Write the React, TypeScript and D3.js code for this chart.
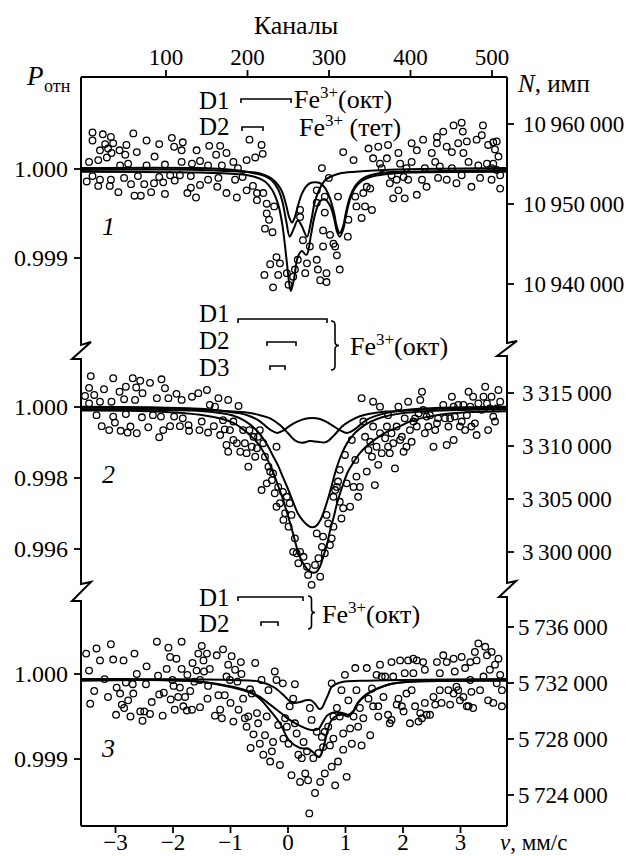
import * as d3 from 'd3';

type Pt = [number, number];

const FONT = '"Liberation Serif", "DejaVu Serif", "Times New Roman", Times, serif';

// axes
const channelTicks = [100, 200, 300, 400, 500];
const velocityTicks = [-3, -2, -1, 0, 1, 2, 3];

const p1PTicks = [1.0, 0.999];
const p1NTicks = [10960000, 10950000, 10940000];
const p2PTicks = [1.0, 0.998, 0.996];
const p2NTicks = [3315000, 3310000, 3305000, 3300000];
const p3PTicks = [1.0, 0.999];
const p3NTicks = [5736000, 5732000, 5728000, 5724000];

// experimental points [v, P]
const p1Points: Pt[] = [
  [-3.5, 0.99986], [-3.46, 1.00008], [-3.4, 1.00041], [-3.4, 1.00032], [-3.4, 0.99992], [-3.3, 1.0001], [-3.3, 0.99981], [-3.27, 1.00021], [-3.27, 0.99988], [-3.22, 1.00039],
  [-3.18, 1.00028], [-3.15, 1.00013], [-3.13, 1.00023], [-3.1, 0.99981], [-3.08, 1.00036], [-3.08, 0.99988], [-3.07, 1.00018], [-3.04, 1.00029], [-2.95, 0.99974], [-2.93, 1.00021],
  [-2.92, 1.00004], [-2.85, 0.9999], [-2.83, 1.00016], [-2.81, 1.00027], [-2.78, 1.00006], [-2.73, 0.99983], [-2.69, 1.0004], [-2.67, 0.9997], [-2.63, 1.00019], [-2.61, 0.99992],
  [-2.56, 0.9997], [-2.5, 0.99983], [-2.46, 1.00032], [-2.46, 1.00004], [-2.38, 0.99974], [-2.33, 0.99984], [-2.32, 1.00014], [-2.24, 1.00028], [-2.24, 0.99991], [-2.17, 0.99985],
  [-2.14, 1.00005], [-2.14, 0.99972], [-2.05, 0.99993], [-2.02, 1.00035], [-1.98, 1.00025], [-1.97, 0.99987], [-1.88, 0.99993], [-1.85, 1.00021], [-1.85, 1.00008], [-1.83, 1.0003],
  [-1.75, 0.99973], [-1.69, 0.99992], [-1.69, 0.99979], [-1.67, 1.00006], [-1.6, 0.99968], [-1.59, 1.00021], [-1.53, 1.00009], [-1.53, 0.99982], [-1.39, 1.00004], [-1.39, 0.99988],
  [-1.37, 1.00026], [-1.25, 1.00016], [-1.23, 0.9998], [-1.21, 0.9999], [-1.18, 1.00026], [-1.15, 1.00004], [-1.07, 1.00018], [-1.07, 0.99973], [-0.95, 1.00008], [-0.92, 0.99988],
  [-0.89, 0.99968], [-0.87, 1.00001], [-0.79, 0.99991], [-0.72, 1.0001], [-0.72, 0.99976], [-0.67, 1.00033], [-0.61, 0.99981], [-0.57, 1.00013], [-0.54, 0.99973], [-0.54, 0.99965],
  [-0.46, 1.00027], [-0.44, 1.00017], [-0.43, 0.99973], [-0.4, 0.99933], [-0.37, 0.99961], [-0.37, 0.9995], [-0.33, 0.99943], [-0.27, 0.99929], [-0.24, 0.99958], [-0.2, 0.99901],
  [-0.31, 0.99893], [-0.14, 0.99894], [-0.41, 0.99881], [-0.26, 0.99867], [-0.17, 0.99881], [-0.02, 0.99883], [0.01, 0.9987], [0.09, 0.99879], [0.12, 0.99887],
  [0.17, 0.99898], [0.21, 0.99954], [0.21, 0.99946], [0.26, 0.9992], [0.3, 0.99883], [0.33, 0.99894], [0.38, 0.99913], [0.5, 0.99976], [0.5, 0.99962], [0.5, 0.99898],
  [0.52, 0.99887], [0.56, 0.99875], [0.59, 1.00001], [0.61, 0.99931], [0.64, 0.99951], [0.67, 0.99873], [0.71, 0.9999], [0.73, 0.99926], [0.82, 0.99913], [0.87, 0.99969],
  [0.9, 0.99887], [0.96, 1.00019], [1.04, 0.99924], [1.05, 0.99943], [0.85, 0.99903], [0.79, 0.99916], [0.64, 0.99969], [0.61, 0.99913], [0.67, 0.99883],
  [1.14, 1.0001], [1.17, 0.99969], [1.19, 0.99958], [1.28, 0.99945], [1.31, 0.99973], [1.34, 0.99958], [1.37, 0.9998], [1.4, 1.00023], [1.43, 0.99978], [1.46, 0.99954],
  [1.48, 1.00012], [1.57, 1.00025], [1.6, 1.00006], [1.63, 1.00001], [1.72, 1.00012], [1.74, 1.00027], [1.77, 0.99984], [1.8, 0.99993], [1.83, 0.99967], [1.89, 0.99988],
  [1.92, 1.00018], [1.92, 0.99976], [1.95, 1.00006], [2.01, 0.99991], [2.03, 0.99967], [2.06, 1.00001], [2.09, 0.99988], [2.15, 1.00029], [2.15, 1.00008], [2.24, 1.00021],
  [2.24, 0.99971], [2.33, 0.99988], [2.35, 1.00033], [2.38, 1.00001], [2.41, 0.9998], [2.5, 1.00018], [2.56, 1.00008], [2.59, 1.00036], [2.59, 1.00029], [2.61, 0.9999],
  [2.64, 1.00003], [2.7, 1.00042], [2.76, 1.00025], [2.76, 0.99988], [2.85, 1.00019], [2.85, 1.00001], [2.88, 1.00049], [2.93, 0.99984], [2.96, 1.00029], [3.02, 1.00052],
  [3.04, 1.00042], [3.02, 0.99993], [3.05, 1.00018], [3.11, 1.00031], [3.14, 1.00008], [3.19, 0.9998], [3.28, 1.00033], [3.31, 1.00004], [3.34, 0.9999], [3.39, 1.00049],
  [3.37, 1.00038], [3.46, 1.00006], [3.48, 1.00027], [3.54, 0.99988], [3.57, 1.0003], [3.6, 1.00022], [3.63, 1.00031], [3.66, 1.00014], [3.63, 0.99999], [3.69, 0.99993],
  [3.69, 0.99978], [3.57, 1.00006], [3.54, 1.00001],
];

const p2Points: Pt[] = [
  [-3.53, 1.00031], [-3.46, 1.00054], [-3.43, 1.00087], [-3.46, 1.0001], [-3.37, 1.00034], [-3.33, 0.99977], [-3.27, 1.00015], [-3.24, 0.99946], [-3.2, 1.0005], [-3.11, 0.99935],
  [-3.07, 1.00015], [-3.04, 1.00081], [-3.04, 0.99973], [-3.01, 0.99956], [-2.93, 1.00043], [-2.91, 0.99933], [-2.85, 1.00022], [-2.82, 1.00057], [-2.82, 0.9998], [-2.79, 0.99928],
  [-2.74, 0.99945], [-2.7, 1.00081], [-2.66, 1.0002], [-2.64, 1.00055], [-2.63, 0.99926], [-2.57, 1.00074], [-2.54, 0.99971], [-2.53, 1.00039], [-2.43, 0.99943], [-2.4, 1.00068],
  [-2.35, 0.99977], [-2.28, 1.00025], [-2.24, 0.99915], [-2.21, 0.99973], [-2.2, 1.00078], [-2.17, 0.99935], [-2.14, 1.00053], [-2.08, 1.00025], [-2.05, 0.99946], [-1.98, 0.99973],
  [-1.94, 1.00037], [-1.88, 0.99946], [-1.85, 1.0002], [-1.83, 0.99968], [-1.73, 0.99949], [-1.72, 0.99933], [-1.67, 1.00029], [-1.56, 1.00039], [-1.54, 0.99935], [-1.5, 0.99959],
  [-1.41, 1.00048], [-1.39, 0.99928], [-1.36, 1.00006], [-1.29, 0.99946], [-1.27, 1.00001], [-1.21, 1.00025], [-1.18, 0.99921], [-1.13, 0.99963], [-1.1, 0.99937], [-1.07, 0.99893],
  [-1.04, 0.99874], [-1.04, 1.0002], [-1.01, 0.99935], [-0.95, 0.99907], [-0.95, 0.99959], [-0.89, 0.99898], [-0.86, 1.00003], [-0.83, 0.99874], [-0.78, 0.99935], [-0.75, 0.99898],
  [-0.72, 0.9987], [-0.69, 0.99832], [-0.67, 0.99935], [-0.63, 0.99888], [-0.6, 0.99916], [-0.57, 0.9986], [-0.54, 0.99884], [-0.52, 0.99916], [-0.49, 0.99935], [-0.46, 0.99766],
  [-0.43, 0.99898], [-0.4, 0.9986], [-0.37, 0.99785], [-0.34, 0.99832], [-0.31, 0.99818], [-0.28, 0.99794], [-0.26, 0.99813], [-0.23, 0.99757], [-0.2, 0.99888], [-0.2, 0.99719],
  [-0.17, 0.99775], [-0.14, 0.99729], [-0.09, 0.99761], [-0.08, 0.99682], [-0.05, 0.99701], [-0.02, 0.99747], [0.01, 0.99663], [0.03, 0.99729], [0.06, 0.99696], [0.09, 0.99592],
  [0.12, 0.9963], [0.15, 0.99588], [0.18, 0.9956],
  [0.21, 0.99592], [0.27, 0.99578], [0.33, 0.9955], [0.35, 0.99527], [0.41, 0.99499], [0.47, 0.99555], [0.5, 0.99644], [0.53, 0.99574], [0.56, 0.99522], [0.59, 0.99606],
  [0.61, 0.99635], [0.64, 0.99588], [0.67, 0.99696], [0.7, 0.99672], [0.73, 0.99611], [0.76, 0.9963], [0.79, 0.99663], [0.79, 0.99747], [0.82, 0.99766], [0.85, 0.99775],
  [0.87, 0.9979], [0.9, 0.99823], [0.9, 0.99733], [0.93, 0.99686], [0.96, 0.99715], [0.99, 0.99865], [1.02, 0.99785], [1.08, 0.99719], [1.11, 0.99907], [1.14, 0.99775],
  [1.17, 0.99851], [1.19, 0.99804], [1.22, 0.99747], [1.25, 0.99775], [1.28, 1.00025], [1.31, 0.99959], [1.34, 0.99916], [1.37, 0.99818], [1.4, 0.99879], [1.43, 0.99902],
  [1.46, 0.9986], [1.48, 1.00015], [1.48, 0.99945], [1.51, 0.9978], [1.54, 0.99888], [1.57, 0.99837], [1.6, 1.00001], [1.6, 0.99926], [1.63, 0.9987], [1.69, 0.99912],
  [1.72, 0.99945], [1.74, 0.99888], [1.74, 0.99977], [1.77, 0.9987], [1.8, 0.99926], [1.83, 0.99898], [1.86, 0.99827], [1.89, 0.99945], [1.92, 1.00001], [1.95, 0.99907],
  [1.98, 0.99916], [2.01, 0.99874], [2.03, 0.99968], [2.06, 0.99888], [2.09, 1.00015], [2.12, 0.99935], [2.15, 0.99902], [2.18, 0.99959], [2.21, 0.99968], [2.24, 0.99945],
  [2.27, 0.99982], [2.3, 1.0002], [2.33, 1.00043], [2.35, 0.99992], [2.38, 0.99926], [2.41, 0.99973], [2.44, 0.99945], [2.47, 0.99977], [2.53, 0.99888], [2.56, 0.99935],
  [2.59, 0.99954], [2.61, 0.99968], [2.7, 1.00006], [2.73, 0.99968], [2.76, 0.99893], [2.79, 0.99945], [2.82, 0.99968], [2.85, 1.00029], [2.88, 1.00001], [2.88, 0.99907],
  [2.9, 0.99973], [2.96, 1.00006], [2.99, 0.99945], [3.02, 0.99959], [3.05, 1.00006], [3.08, 0.99935], [3.11, 0.99977], [3.14, 1.00043], [3.17, 1.00001], [3.19, 0.99945],
  [3.22, 1.00029], [3.25, 0.99954], [3.28, 0.99921], [3.31, 1.0001], [3.37, 0.99992], [3.4, 1.00029], [3.43, 1.00057], [3.46, 1.0001], [3.48, 0.99935], [3.51, 0.99996],
  [3.54, 1.00029], [3.57, 0.99973], [3.6, 0.99959], [3.63, 0.99996], [3.66, 1.00048], [3.69, 1.00015],
];

const p3Points: Pt[] = [
  [-3.51, 1.00024], [-3.46, 1.00004], [-3.44, 0.99965], [-3.37, 0.9998], [-3.33, 1.0003], [-3.27, 1.00016], [-3.19, 0.99994], [-3.13, 0.99973], [-3.08, 1.00035], [-3.04, 1.00017],
  [-2.99, 0.99952], [-2.98, 0.99984], [-2.92, 0.99977], [-2.89, 0.99964], [-2.86, 1.00016], [-2.85, 0.9996], [-2.82, 0.9999], [-2.78, 0.99969], [-2.74, 0.9995], [-2.7, 0.99988],
  [-2.69, 0.99977], [-2.67, 1.00024], [-2.63, 1.0], [-2.57, 0.99956], [-2.53, 0.99945], [-2.5, 0.99956], [-2.47, 0.99988], [-2.46, 1.00009], [-2.4, 0.99953], [-2.37, 0.99967],
  [-2.28, 1.00038], [-2.26, 0.99998], [-2.24, 0.99976], [-2.18, 0.99951], [-2.16, 0.99978], [-2.11, 1.00006], [-2.08, 1.00031], [-2.05, 1.0002], [-2.04, 0.9997], [-2.01, 0.99993],
  [-1.99, 0.99986], [-1.97, 0.99958], [-1.94, 1.00018], [-1.91, 0.99973], [-1.88, 0.99984], [-1.85, 1.00006], [-1.85, 1.00038], [-1.82, 0.99962], [-1.79, 0.99973], [-1.76, 0.99957],
  [-1.75, 0.99999], [-1.7, 0.9998], [-1.67, 0.99958], [-1.66, 1.00013], [-1.63, 0.99991], [-1.59, 1.00004], [-1.56, 1.00024], [-1.53, 0.99961], [-1.53, 0.99993], [-1.5, 1.00033],
  [-1.47, 1.00016], [-1.46, 1.00003], [-1.41, 1.00024], [-1.4, 0.99971], [-1.39, 0.99986], [-1.36, 1.00006], [-1.27, 0.99951], [-1.24, 1.00022], [-1.21, 0.99975], [-1.18, 0.99958],
  [-1.15, 0.99948], [-1.13, 1.00029], [-1.1, 0.99975], [-1.07, 0.99997], [-1.04, 1.00011], [-1.01, 0.99993], [-1.0, 0.99966], [-0.98, 1.00021], [-0.95, 0.99944], [-0.92, 1.00005],
  [-0.88, 0.99991], [-0.86, 0.99958], [-0.82, 1.00014], [-0.81, 1.0], [-0.78, 0.99971], [-0.75, 0.99948], [-0.72, 0.99938], [-0.69, 0.9995], [-0.66, 0.99982], [-0.65, 0.99913],
  [-0.63, 0.99977], [-0.6, 0.99929], [-0.57, 1.00013], [-0.54, 0.99954], [-0.52, 0.99942], [-0.49, 0.99918], [-0.46, 0.99993], [-0.43, 0.99905], [-0.4, 0.99928], [-0.37, 0.9995],
  [-0.34, 0.99981], [-0.31, 0.99897], [-0.28, 0.99909], [-0.26, 0.9992], [-0.23, 1.00003], [-0.2, 0.99993], [-0.17, 0.9994], [-0.14, 0.99893], [-0.09, 0.99989], [-0.08, 0.99924],
  [-0.05, 0.99948], [-0.02, 0.99938], [0.01, 0.99918], [0.03, 0.99962], [0.06, 0.99881], [0.09, 0.99971], [0.12, 0.99988], [0.12, 0.99942], [0.15, 0.9993], [0.18, 0.99905],
  [0.21, 0.99873], [0.24, 0.99901], [0.27, 0.9992], [0.3, 0.99883], [0.33, 0.99909], [0.35, 0.99875], [0.37, 0.99836], [0.38, 0.9996], [0.41, 0.99946], [0.44, 0.99901],
  [0.47, 0.9986], [0.5, 0.99932], [0.53, 0.99907],
  [0.56, 0.99873], [0.59, 0.99926], [0.61, 0.99914], [0.64, 0.99932], [0.64, 0.99883], [0.7, 0.99938], [0.73, 0.99916], [0.76, 0.99989], [0.76, 0.99891], [0.79, 0.9995],
  [0.79, 0.99924], [0.82, 0.99869], [0.85, 0.9996], [0.87, 0.99897], [0.9, 0.9995], [0.93, 0.99981], [0.96, 0.9993], [0.96, 0.99911], [0.99, 0.99999], [1.02, 0.99879],
  [1.05, 0.99969], [1.08, 0.99936], [1.11, 0.99918], [1.14, 0.9995], [1.17, 1.00007], [1.19, 0.99981], [1.22, 0.99938], [1.25, 0.9996], [1.28, 0.99916], [1.31, 0.99948],
  [1.37, 1.00007], [1.4, 0.99971], [1.43, 0.99928], [1.46, 0.99983], [1.48, 0.99962], [1.54, 0.99999], [1.57, 0.99962], [1.57, 0.9995], [1.6, 1.00011], [1.63, 0.99997],
  [1.66, 0.99973], [1.69, 0.99997], [1.74, 0.99952], [1.77, 0.99942], [1.8, 1.00014], [1.8, 0.99946], [1.83, 0.99997], [1.89, 0.99964], [1.92, 0.99971], [1.95, 1.00016],
  [1.98, 0.99962], [2.01, 0.99956], [2.03, 1.00001], [2.06, 0.99977], [2.09, 1.00016], [2.12, 0.99942], [2.15, 0.99981], [2.18, 1.00018], [2.18, 1.00001], [2.21, 0.99962],
  [2.24, 1.00016], [2.27, 0.99944], [2.3, 0.99954], [2.33, 0.99948], [2.35, 1.00014], [2.38, 1.00005], [2.38, 0.99966], [2.41, 0.99952], [2.47, 0.99952], [2.53, 0.99973],
  [2.56, 0.99964], [2.59, 1.00014], [2.64, 0.99981], [2.64, 1.00001], [2.67, 0.99966], [2.7, 1.00022], [2.76, 1.00014], [2.79, 0.99981], [2.82, 0.99964], [2.88, 0.99977],
  [2.88, 1.00018], [2.9, 1.00003], [2.93, 0.99985], [2.96, 0.99981], [2.99, 0.99969], [3.02, 1.0002], [3.05, 0.99973], [3.08, 1.00007], [3.11, 0.99962], [3.14, 0.99962],
  [3.17, 1.00014], [3.17, 0.99993], [3.19, 0.99979], [3.22, 0.9996], [3.25, 1.00026], [3.28, 1.00016], [3.31, 1.00036], [3.34, 0.99981], [3.4, 0.99997], [3.43, 1.00032],
  [3.46, 1.00022], [3.48, 0.99969], [3.51, 1.00005], [3.54, 1.00026], [3.57, 0.99966], [3.6, 1.00011], [3.63, 0.99989], [3.66, 1.00018], [3.69, 0.99999], [3.72, 0.99981],
  [3.72, 0.99962],
];

// fitted curves [v, P]
const p1FitD1: Pt[] = [
  [-3.6, 0.99999], [-1.53, 0.99999], [-0.83, 0.99997], [-0.57, 0.99996], [-0.4, 0.99993], [-0.28, 0.99989], [-0.17, 0.99982], [-0.1, 0.99974], [-0.03, 0.99959], [0.02, 0.99946],
  [0.07, 0.9994], [0.12, 0.99946], [0.17, 0.99958], [0.24, 0.99972], [0.31, 0.9998], [0.38, 0.99984], [0.47, 0.99985], [0.56, 0.99984], [0.64, 0.99979], [0.73, 0.99967],
  [0.8, 0.99951], [0.85, 0.99935], [0.9, 0.99928], [0.96, 0.99936], [1.01, 0.99952], [1.08, 0.99969], [1.17, 0.99981], [1.29, 0.99989], [1.43, 0.99993], [1.69, 0.99996],
  [2.12, 0.99997], [3.8, 0.99999],
];
const p1FitD2: Pt[] = [
  [-3.6, 1.00001], [-1.53, 1.00001], [-0.83, 0.99998], [-0.57, 0.99995], [-0.4, 0.99992], [-0.28, 0.99987], [-0.17, 0.99977], [-0.1, 0.99964], [-0.03, 0.99941], [0.03, 0.99924],
  [0.1, 0.99933], [0.17, 0.99942], [0.24, 0.99936], [0.33, 0.99924], [0.4, 0.99941], [0.47, 0.99964], [0.56, 0.99979], [0.64, 0.99987], [0.73, 0.99991], [0.9, 0.99995],
  [1.17, 0.99997], [1.69, 0.99999], [3.8, 1.00001],
];
const p1FitSum: Pt[] = [
  [-3.6, 0.99997], [-1.53, 0.99996], [-0.83, 0.99994], [-0.57, 0.99991], [-0.4, 0.99986], [-0.28, 0.99977], [-0.17, 0.9996], [-0.1, 0.99938], [-0.03, 0.99901], [0.02, 0.99872],
  [0.05, 0.99863], [0.1, 0.99875], [0.17, 0.99901], [0.24, 0.99908], [0.3, 0.99904], [0.33, 0.99904], [0.4, 0.99926], [0.47, 0.99949], [0.56, 0.99964], [0.64, 0.99966],
  [0.73, 0.99959], [0.8, 0.99945], [0.85, 0.9993], [0.9, 0.99924], [0.96, 0.99932], [1.01, 0.99948], [1.08, 0.99966], [1.17, 0.99979], [1.29, 0.99987], [1.43, 0.99991],
  [1.69, 0.99994], [2.12, 0.99996], [3.8, 0.99997],
];

const p2FitD1: Pt[] = [
  [-3.6, 1.00001], [-2.4, 0.99999], [-1.53, 0.99995], [-1.1, 0.99988], [-0.83, 0.99982], [-0.66, 0.99974], [-0.52, 0.99963], [-0.4, 0.99948], [-0.31, 0.99936], [-0.19, 0.99927],
  [-0.07, 0.99935], [0.03, 0.99947], [0.16, 0.99959], [0.3, 0.99967], [0.42, 0.99969], [0.54, 0.99967], [0.66, 0.99959], [0.78, 0.99947], [0.9, 0.99935], [1.03, 0.99927],
  [1.15, 0.99936], [1.25, 0.99949], [1.39, 0.99966], [1.57, 0.99977], [1.77, 0.99985], [2.12, 0.99993], [2.64, 0.99998], [3.8, 1.00001],
];
const p2FitD2: Pt[] = [
  [-3.6, 0.99994], [-2.4, 0.99992], [-1.53, 0.99989], [-1.18, 0.99983], [-0.96, 0.99976], [-0.75, 0.99961], [-0.57, 0.99938], [-0.45, 0.99915], [-0.35, 0.9989], [-0.26, 0.99862],
  [-0.17, 0.99834], [-0.09, 0.99803], [0.0, 0.99769], [0.09, 0.99732], [0.17, 0.99701], [0.26, 0.9968], [0.35, 0.99666], [0.42, 0.99661], [0.49, 0.99665], [0.56, 0.9968],
  [0.64, 0.99713], [0.73, 0.99761], [0.8, 0.99803], [0.85, 0.99831], [0.94, 0.9987], [1.03, 0.99899], [1.13, 0.99921], [1.25, 0.99939], [1.43, 0.99958], [1.65, 0.99972],
  [1.95, 0.99982], [2.47, 0.99989], [3.16, 0.99992], [3.8, 0.99994],
];
const p2FitD3: Pt[] = [
  [-3.6, 0.99998], [-2.4, 0.99996], [-1.53, 0.99992], [-1.1, 0.99989], [-0.83, 0.99986], [-0.66, 0.99983], [-0.49, 0.99977], [-0.31, 0.99968], [-0.14, 0.99949], [0.0, 0.99926],
  [0.12, 0.99906], [0.24, 0.99899], [0.38, 0.99904], [0.52, 0.99902], [0.66, 0.99901], [0.8, 0.9992], [0.94, 0.99945], [1.08, 0.99961], [1.25, 0.99974], [1.43, 0.99981],
  [1.69, 0.99987], [1.95, 0.99989], [2.47, 0.99994], [3.8, 0.99998],
];
const p2FitSum: Pt[] = [
  [-3.6, 0.9999], [-2.4, 0.99988], [-1.53, 0.99978], [-0.96, 0.99956], [-0.61, 0.99913], [-0.49, 0.9989], [-0.37, 0.99856], [-0.28, 0.99825], [-0.19, 0.99786], [-0.1, 0.99746],
  [-0.02, 0.99704], [0.07, 0.99654], [0.16, 0.996], [0.24, 0.99566], [0.33, 0.99544], [0.42, 0.99534], [0.49, 0.99535], [0.56, 0.99552], [0.61, 0.99577], [0.68, 0.99614],
  [0.73, 0.99651], [0.8, 0.99693], [0.85, 0.99727], [0.96, 0.99783], [1.04, 0.99817], [1.13, 0.99842], [1.25, 0.9987], [1.37, 0.9989], [1.55, 0.99913], [1.72, 0.9993],
  [1.95, 0.99946], [2.12, 0.99959], [2.52, 0.99975], [3.11, 0.99985], [3.8, 0.99988],
];

const p3FitD1: Pt[] = [
  [-3.6, 0.99994], [-1.01, 0.99993], [-0.49, 0.99991], [-0.26, 0.99985], [-0.09, 0.99976], [0.03, 0.99968], [0.1, 0.99966], [0.21, 0.99967], [0.31, 0.99969], [0.4, 0.99969],
  [0.47, 0.99965], [0.54, 0.99959], [0.59, 0.9996], [0.64, 0.99967], [0.7, 0.99976], [0.75, 0.99984], [0.83, 0.99988], [0.96, 0.99991], [1.25, 0.99992], [1.95, 0.99993],
  [3.8, 0.99994],
];
const p3FitD2: Pt[] = [
  [-3.6, 0.99993], [-1.53, 0.99991], [-0.96, 0.99985], [-0.66, 0.99979], [-0.49, 0.99973], [-0.31, 0.99964], [-0.14, 0.99955], [0.03, 0.99946], [0.21, 0.99939], [0.35, 0.99935],
  [0.47, 0.99934], [0.54, 0.99936], [0.61, 0.99944], [0.68, 0.99951], [0.75, 0.99954], [0.85, 0.99955], [0.96, 0.99954], [1.04, 0.99952], [1.13, 0.99956], [1.22, 0.99967],
  [1.36, 0.99976], [1.51, 0.99982], [1.77, 0.99988], [2.12, 0.99991], [2.82, 0.99992], [3.8, 0.99993],
];
const p3FitSum: Pt[] = [
  [-3.6, 0.99992], [-1.53, 0.99991], [-0.96, 0.99984], [-0.66, 0.99978], [-0.49, 0.99971], [-0.31, 0.99957], [-0.14, 0.99942], [0.03, 0.99921], [0.21, 0.99913], [0.35, 0.99912],
  [0.47, 0.99906], [0.54, 0.99902], [0.61, 0.99912], [0.68, 0.99931], [0.75, 0.99945], [0.85, 0.99951], [0.96, 0.99952], [1.04, 0.9995], [1.13, 0.99955], [1.22, 0.99966],
  [1.36, 0.99975], [1.51, 0.99981], [1.77, 0.99988], [2.12, 0.99991], [2.82, 0.99992], [3.8, 0.99992],
];

// layout
const X0 = 81;
const X1 = 507;
const TOP = 77;
const BOTTOM = 826;

const xV = d3.scaleLinear().domain([-3.6, 3.8]).range([X0, 506.5]);
const xCh = d3.scaleLinear().domain([-4.3, 517.8]).range([X0, 506.5]);

const fmtP = d3.format('.3f');
const fmtN = d3.formatLocale({ decimal: '.', thousands: '\u2009', grouping: [3], currency: ['', ''] }).format(',d');

const panels = [
  {
    y: d3.scaleLinear().domain([0.999, 1.0]).range([258, 169]),
    n: d3.scaleLinear().domain([10940000, 10960000]).range([284, 124]),
    pTicks: p1PTicks, nTicks: p1NTicks, points: p1Points,
    fits: [p1FitD1, p1FitD2, p1FitSum], label: '1', labelY: 235, nX: 523,
  },
  {
    y: d3.scaleLinear().domain([0.996, 1.0]).range([549, 407]),
    n: d3.scaleLinear().domain([3300000, 3315000]).range([552, 393]),
    pTicks: p2PTicks, nTicks: p2NTicks, points: p2Points,
    fits: [p2FitD1, p2FitD3, p2FitD2, p2FitSum], label: '2', labelY: 483, nX: 522,
  },
  {
    y: d3.scaleLinear().domain([0.999, 1.0]).range([759, 674]),
    n: d3.scaleLinear().domain([5724000, 5736000]).range([795, 627]),
    pTicks: p3PTicks, nTicks: p3NTicks, points: p3Points,
    fits: [p3FitD1, p3FitD2, p3FitSum], label: '3', labelY: 757, nX: 518,
  },
];

const leftAxis = `M${X0},${TOP}V345L${X0 + 10},342L${X0 - 9},359H${X0}V584L${X0 + 10},582L${X0 - 9},601H${X0}V${BOTTOM}`;
const rightAxis = `M${X1},${TOP}V343L${X1 + 10},341L${X1 - 10},356H${X1}V583L${X1 + 9},581L${X1 - 8},597H${X1}V${BOTTOM}`;

const marker = (x1: number, x2: number, y: number) => `M${x1},${y + 4}V${y}H${x2}V${y + 4}`;
const brace = (x: number, y1: number, y2: number, w: number) => {
  const ym = (y1 + y2) / 2;
  return `M${x},${y1}Q${x + w},${y1} ${x + w},${y1 + w}V${ym - w}Q${x + w},${ym} ${x + 2 * w},${ym}Q${x + w},${ym} ${x + w},${ym + w}V${y2 - w}Q${x + w},${y2} ${x},${y2}`;
};

function FeLabel({ x, y, text }: { x: number; y: number; text: string }) {
  return (
    <text x={x} y={y} fontFamily={FONT} fontSize={26}>
      Fe<tspan fontSize={17} dy={-10}>3+</tspan>
      <tspan dy={10}>{text}</tspan>
    </text>
  );
}

export default function App() {
  return (
    <svg
      width={633}
      height={856}
      style={{ display: 'block', position: 'absolute', left: 0, top: 0, background: '#fff' }}
    >
      <rect width={633} height={856} fill="#fff" />
      <g fontFamily={FONT}>
        {/* top channel axis */}
        <text x={296} y={34} fontSize={26} textAnchor="middle">Каналы</text>
        <line x1={X0} x2={X1} y1={TOP} y2={TOP} stroke="#000" strokeWidth={2} />
        {channelTicks.map((c) => (
          <g key={c}>
            <line x1={xCh(c)} x2={xCh(c)} y1={TOP} y2={TOP - 7} stroke="#000" strokeWidth={1.8} />
            <text x={xCh(c)} y={65} fontSize={23} textAnchor="middle">{c}</text>
          </g>
        ))}

        {/* bottom velocity axis */}
        <line x1={X0} x2={X1} y1={BOTTOM} y2={BOTTOM} stroke="#000" strokeWidth={2} />
        {velocityTicks.map((v) => (
          <g key={v}>
            <line x1={xV(v)} x2={xV(v)} y1={BOTTOM} y2={BOTTOM + 7} stroke="#000" strokeWidth={1.8} />
            <text x={xV(v)} y={850} fontSize={23} textAnchor="middle">{v < 0 ? `\u2212${-v}` : v}</text>
          </g>
        ))}
        <text x={500} y={850} fontSize={23}>
          <tspan fontStyle="italic">v</tspan>, мм/с
        </text>

        <path d={leftAxis} fill="none" stroke="#000" strokeWidth={2} />
        <path d={rightAxis} fill="none" stroke="#000" strokeWidth={2} />

        <text x={27} y={85} fontSize={27} fontStyle="italic">P</text>
        <text x={44} y={92} fontSize={18}>отн</text>
        <text x={518} y={92} fontSize={25}>
          <tspan fontStyle="italic">N</tspan>, имп
        </text>

        {panels.map((p, i) => {
          const line = d3
            .line<Pt>()
            .x((d) => xV(d[0]))
            .y((d) => p.y(d[1]))
            .curve(d3.curveCatmullRom.alpha(0.5));
          return (
            <g key={i}>
              {p.pTicks.map((t) => (
                <g key={t}>
                  <line x1={X0 - 7} x2={X0} y1={p.y(t)} y2={p.y(t)} stroke="#000" strokeWidth={1.8} />
                  <text x={68} y={p.y(t)} dy="0.35em" fontSize={24} textAnchor="end">{fmtP(t)}</text>
                </g>
              ))}
              {p.nTicks.map((t) => (
                <g key={t}>
                  <line x1={X1} x2={X1 + 7} y1={p.n(t)} y2={p.n(t)} stroke="#000" strokeWidth={1.8} />
                  <text x={p.nX} y={p.n(t)} dy="0.35em" fontSize={23}>{fmtN(t)}</text>
                </g>
              ))}
              {p.points.map((d, j) => (
                <circle key={j} cx={xV(d[0])} cy={p.y(d[1])} r={3.3} fill="none" stroke="#000" strokeWidth={1.3} />
              ))}
              {p.fits.map((f, j) => (
                <path key={j} d={line(f) ?? ''} fill="none" stroke="#000" strokeWidth={2} />
              ))}
              <text x={102} y={p.labelY} fontSize={26} fontStyle="italic">{p.label}</text>
            </g>
          );
        })}

        {/* legends */}
        <g fontSize={25}>
          <text x={199} y={109}>D1</text>
          <path d={marker(241, 291, 99)} fill="none" stroke="#000" strokeWidth={1.6} />
          <FeLabel x={294} y={108} text="(окт)" />
          <text x={199} y={135}>D2</text>
          <path d={marker(242, 263, 127)} fill="none" stroke="#000" strokeWidth={1.6} />
          <FeLabel x={299} y={136} text={'\u00a0(тет)'} />

          <text x={199} y={322}>D1</text>
          <path d={marker(238, 327, 319)} fill="none" stroke="#000" strokeWidth={1.6} />
          <text x={199} y={349}>D2</text>
          <path d={marker(267, 296, 342)} fill="none" stroke="#000" strokeWidth={1.6} />
          <text x={199} y={376}>D3</text>
          <path d={marker(270, 285, 366)} fill="none" stroke="#000" strokeWidth={1.6} />
          <path d={brace(331, 321, 370, 4)} fill="none" stroke="#000" strokeWidth={1.6} />
          <FeLabel x={350} y={355} text="(окт)" />

          <text x={199} y={606}>D1</text>
          <path d={marker(238, 303, 597)} fill="none" stroke="#000" strokeWidth={1.6} />
          <text x={199} y={632}>D2</text>
          <path d={marker(261, 278, 622)} fill="none" stroke="#000" strokeWidth={1.6} />
          <path d={brace(308, 596, 629, 3.5)} fill="none" stroke="#000" strokeWidth={1.6} />
          <FeLabel x={322} y={623} text="(окт)" />
        </g>
      </g>
    </svg>
  );
}
